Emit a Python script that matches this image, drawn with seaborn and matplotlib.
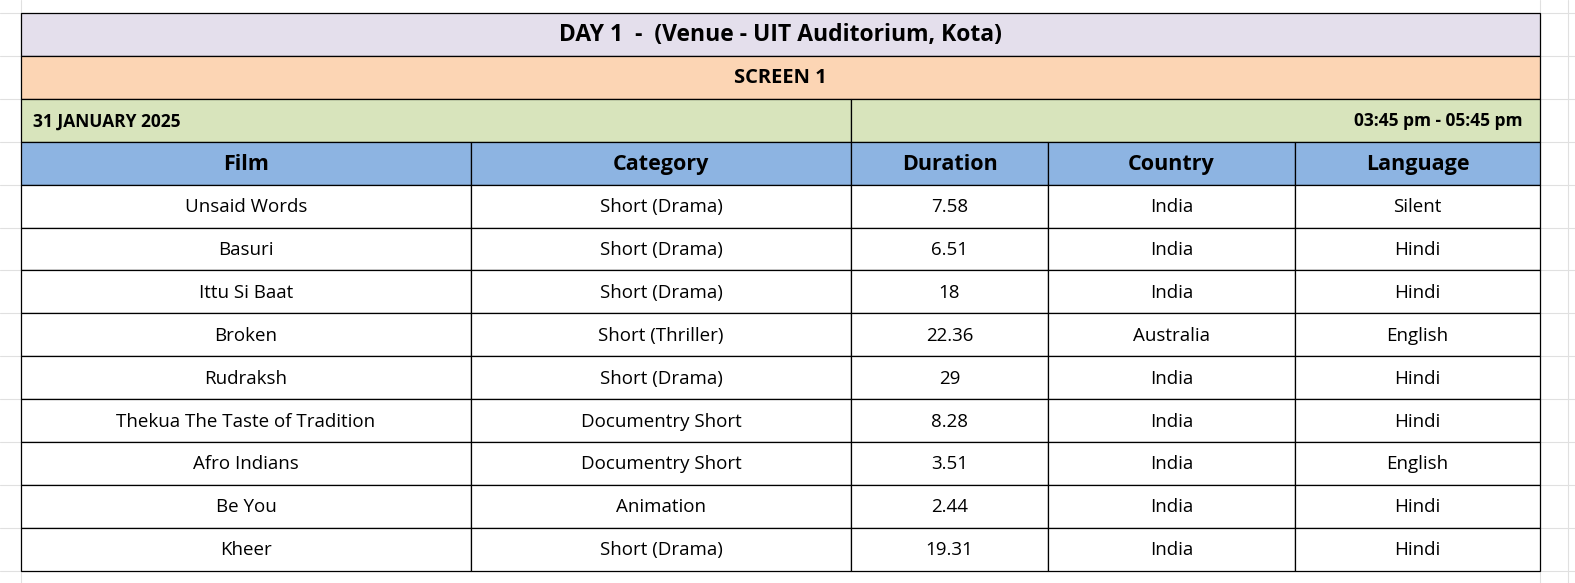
import seaborn as sns
import matplotlib.pyplot as plt
from matplotlib.patches import Rectangle

sns.set_theme(style="white", font="Open Sans")

title = "DAY 1  -  (Venue - UIT Auditorium, Kota)"
screen = "SCREEN 1"
date_text = "31 JANUARY 2025"
time_text = "03:45 pm - 05:45 pm"
columns = ["Film", "Category", "Duration", "Country", "Language"]
films = ["Unsaid Words", "Basuri", "Ittu Si Baat", "Broken", "Rudraksh",
         "Thekua The Taste of Tradition", "Afro Indians", "Be You", "Kheer"]
categories = ["Short (Drama)", "Short (Drama)", "Short (Drama)", "Short (Thriller)",
              "Short (Drama)", "Documentry Short", "Documentry Short", "Animation",
              "Short (Drama)"]
durations = ["7.58", "6.51", "18", "22.36", "29", "8.28", "3.51", "2.44", "19.31"]
countries = ["India", "India", "India", "Australia", "India", "India", "India",
             "India", "India"]
languages = ["Silent", "Hindi", "Hindi", "English", "Hindi", "Hindi", "English",
             "Hindi", "Hindi"]

W, H = 1575, 583
col_x = [21, 471, 851, 1048, 1295, 1540]
top = 13
rh = 42.9

fig = plt.figure(figsize=(W / 100, H / 100), dpi=100)
ax = fig.add_axes([0, 0, 1, 1])
ax.set_xlim(0, W)
ax.set_ylim(H, 0)
ax.axis("off")

# faint spreadsheet grid
for i in range(-1, 15):
    y = top + i * rh
    ax.plot([0, W], [y, y], color="#e0e0e0", lw=0.8, zorder=0)
for x in [21, 1540, 1568]:
    ax.plot([x, x], [0, H], color="#e0e0e0", lw=0.8, zorder=0)

def cell(x0, x1, r, fc, text="", ha="center", bold=False, size=13):
    y0 = top + r * rh
    ax.add_patch(Rectangle((x0, y0), x1 - x0, rh, fc=fc, ec="black", lw=0.9, zorder=2))
    if ha == "center":
        tx = (x0 + x1) / 2
    elif ha == "left":
        tx = x0 + 12
    else:
        tx = x1 - 18
    ax.text(tx, y0 + rh / 2 + 1, text, ha=ha, va="center", fontsize=size,
            fontweight="bold" if bold else "normal", color="black", zorder=3)

cell(col_x[0], col_x[-1], 0, "#e4dfec", title, bold=True, size=16.5)
cell(col_x[0], col_x[-1], 1, "#fcd5b4", screen, bold=True, size=14.5)
cell(col_x[0], col_x[2], 2, "#d8e4bc", date_text, ha="left", bold=True, size=12.5)
cell(col_x[2], col_x[-1], 2, "#d8e4bc", time_text, ha="right", bold=True, size=12.5)
for j, c in enumerate(columns):
    cell(col_x[j], col_x[j + 1], 3, "#8db4e2", c, bold=True, size=15.5)

rows = list(zip(films, categories, durations, countries, languages))
for i, row in enumerate(rows):
    for j, v in enumerate(row):
        cell(col_x[j], col_x[j + 1], 4 + i, "white", v, size=13.5)

fig.savefig("out.png", dpi=100)
